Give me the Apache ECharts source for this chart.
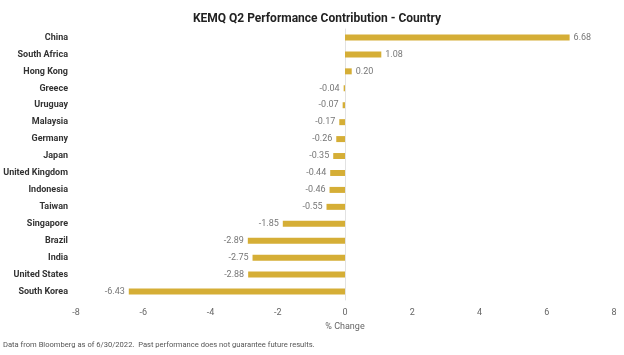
<!DOCTYPE html>
<html><head><meta charset="utf-8">
<script src="https://cdn.jsdelivr.net/npm/echarts@6/dist/echarts.min.js"></script>
<style>html,body{margin:0;padding:0;background:#fff}#c{width:624px;height:355px}</style>
</head><body><div id="c"></div>
<script>
const categories = ["China","South Africa","Hong Kong","Greece","Uruguay","Malaysia","Germany","Japan","United Kingdom","Indonesia","Taiwan","Singapore","Brazil","India","United States","South Korea"];
const values = [6.68,1.08,0.20,-0.04,-0.07,-0.17,-0.26,-0.35,-0.44,-0.46,-0.55,-1.85,-2.89,-2.75,-2.88,-6.43];
const xTicks = [-8,-6,-4,-2,0,2,4,6,8];
const FONT = '"Liberation Sans Narrow","Roboto",sans-serif';
const chart = echarts.init(document.getElementById('c'));
chart.setOption({
  animation:false,
  title:{text:'KEMQ Q2 Performance Contribution - Country',left:312,top:8,textAlign:'center',
    textStyle:{fontFamily:FONT,fontSize:12,fontWeight:'bold',color:'#222'}},
  graphic:[{type:'text',left:3,top:341,style:{text:'Data from Bloomberg as of 6/30/2022.  Past performance does not guarantee future results.',
    fontFamily:FONT,fontSize:7.6,fill:'#555'}}],
  grid:{left:76,right:10,top:29,bottom:55,containLabel:false,outerBoundsMode:'none'},
  xAxis:{type:'value',min:xTicks[0],max:xTicks[xTicks.length-1],interval:2,
    name:'% Change',nameLocation:'middle',nameGap:20,
    nameTextStyle:{fontFamily:FONT,fontSize:9,color:'#666'},
    axisLine:{show:false},axisTick:{show:false},splitLine:{show:false},
    axisLabel:{fontFamily:FONT,fontSize:9,color:'#666',margin:8}},
  yAxis:{type:'category',data:categories,inverse:true,
    axisLine:{show:true,onZero:true,lineStyle:{color:'#e2e2e2'}},axisTick:{show:false},
    axisLabel:{fontFamily:FONT,fontSize:9,fontWeight:'bold',color:'#333',margin:8},
    position:'left'},
  series:[{type:'bar',barWidth:6,
    itemStyle:{color:'#D5AE36'},
    data:values.map(v=>({value:v,label:{show:true,position:v>=0?'right':'left',distance:4,
      formatter:v.toFixed(2),fontFamily:FONT,fontSize:9,color:'#777'}}))}]
});
</script></body></html>
